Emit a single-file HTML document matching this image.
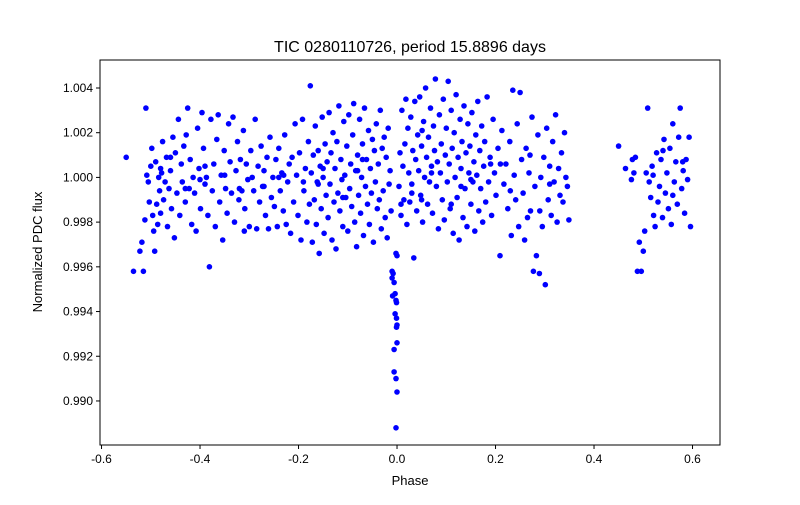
<!DOCTYPE html>
<html><head><meta charset="utf-8"><style>
body{margin:0;background:#fff;font-family:"Liberation Sans",sans-serif;}
svg text{font-family:"Liberation Sans",sans-serif;}
</style></head><body>
<svg id="chart" width="800" height="500">
<rect width="800" height="500" fill="#fff"/>
<text x="410" y="52" font-size="16" text-anchor="middle">TIC 0280110726, period 15.8896 days</text>
<g id="points"></g>
<rect x="100" y="60" width="620" height="385" fill="none" stroke="#000" stroke-width="1"/>
<g id="xaxis"></g>
<g id="yaxis"></g>
<text x="410" y="485" font-size="13" text-anchor="middle">Phase</text>
<text x="42" y="252" font-size="13" text-anchor="middle" transform="rotate(-90 42 252)">Normalized PDC flux</text>
</svg>
<script>
const xTicks=[-0.6,-0.4,-0.2,0.0,0.2,0.4,0.6];
const yTicks=[0.990,0.992,0.994,0.996,0.998,1.000,1.002,1.004];
const phase=[
-0.550,-0.535,-0.522,-0.518,-0.515,-0.512,-0.510,-0.508,-0.505,-0.503,-0.500,-0.498,-0.496,-0.494,-0.492,-0.490,-0.488,-0.486,-0.484,-0.482,-0.480,-0.478,-0.476,-0.474,-0.471,-0.468,-0.466,-0.463,-0.460,-0.458,-0.455,-0.452,-0.450,-0.447,-0.444,-0.441,-0.438,-0.436,-0.433,-0.430,-0.428,-0.425,-0.422,-0.420,-0.417,-0.414,-0.411,-0.408,-0.405,-0.402,-0.399,-0.396,-0.393,-0.390,-0.387,-0.384,-0.381,-0.378,-0.375,-0.372,-0.369,-0.366,-0.363,-0.360,-0.357,-0.354,-0.351,-0.348,-0.345,-0.342,-0.339,-0.336,-0.333,-0.330,-0.327,-0.324,-0.321,-0.318,-0.315,-0.312,-0.309,-0.306,-0.303,-0.300,-0.297,-0.294,-0.291,-0.288,-0.285,-0.282,-0.279,-0.276,-0.273,-0.270,-0.267,-0.264,-0.261,-0.258,-0.255,-0.252,-0.249,-0.246,-0.243,-0.240,-0.237,-0.234,-0.231,-0.228,-0.225,-0.222,-0.219,-0.216,-0.213,-0.210,-0.207,-0.204,-0.201,-0.198,-0.195,-0.192,-0.189,-0.186,-0.183,-0.180,-0.178,-0.176,-0.174,-0.172,-0.170,-0.168,-0.166,-0.164,-0.162,-0.160,-0.158,-0.156,-0.154,-0.152,-0.150,-0.148,-0.146,-0.144,-0.142,-0.140,-0.138,-0.136,-0.134,-0.132,-0.130,-0.128,-0.126,-0.124,-0.122,-0.120,-0.118,-0.116,-0.114,-0.112,-0.110,-0.108,-0.106,-0.104,-0.102,-0.100,-0.098,-0.096,-0.094,-0.092,-0.090,-0.088,-0.086,-0.084,-0.082,-0.080,-0.078,-0.076,-0.074,-0.072,-0.070,-0.068,-0.066,-0.064,-0.062,-0.060,-0.058,-0.056,-0.054,-0.052,-0.050,-0.048,-0.046,-0.044,-0.042,-0.040,-0.038,-0.036,-0.034,-0.032,-0.030,-0.028,-0.026,-0.024,-0.022,-0.020,-0.018,-0.016,-0.014,-0.012,-0.010,-0.008,
-0.010,-0.006,-0.004,-0.009,-0.002,-0.001,-0.004,-0.001,0.000,-0.001,0.000,-0.006,-0.006,-0.002,0.000,-0.002,-0.002,0.000,0.008,0.051,
0.004,0.006,0.008,0.010,0.012,0.014,0.016,0.018,0.020,0.022,0.024,0.026,0.028,0.030,0.032,0.034,0.036,0.038,0.040,0.042,0.044,0.046,0.048,0.050,0.052,0.054,0.056,0.058,0.060,0.062,0.064,0.066,0.068,0.070,0.072,0.074,0.076,0.078,0.080,0.082,0.084,0.086,0.088,0.090,0.092,0.094,0.096,0.098,0.100,0.102,0.104,0.106,0.108,0.110,0.112,0.114,0.116,0.118,0.120,0.122,0.124,0.126,0.128,0.130,0.132,0.134,0.136,0.138,0.140,0.142,0.144,0.146,0.148,0.150,0.152,0.154,0.156,0.158,0.160,0.162,0.164,0.166,0.168,0.170,0.172,0.174,0.176,0.178,0.180,0.183,0.186,0.189,0.192,0.195,0.198,0.201,0.205,0.209,0.213,0.217,0.221,0.225,0.229,0.232,0.235,0.238,0.241,0.244,0.247,0.250,0.253,0.256,0.259,0.262,0.265,0.268,0.271,0.274,0.277,0.280,0.283,0.286,0.289,0.292,0.295,0.298,0.301,0.304,0.307,0.310,0.313,0.316,0.319,0.322,0.325,0.328,0.331,0.334,0.337,0.340,0.343,0.346,0.349,
0.450,0.464,0.476,0.478,0.481,0.484,0.488,0.492,0.496,0.500,0.503,0.506,0.509,0.512,0.515,0.518,0.521,0.524,0.527,0.530,0.533,0.536,0.539,0.542,0.545,0.548,0.551,0.554,0.557,0.560,0.563,0.566,0.569,0.572,0.575,0.578,0.581,0.584,0.587,0.590,0.593,0.596,
-0.46,-0.43,-0.39,-0.35,-0.31,-0.27,-0.23,-0.19,-0.15,-0.11,-0.07,0.03,0.07,0.11,0.15,0.19,0.23,0.27,0.31,0.52,0.56,-0.48,-0.40,-0.32,-0.24,-0.16,-0.08,0.05,0.13,0.21,0.29,0.54,0.58
];
const flux=[
1.0009,0.9958,0.9967,0.9971,0.9958,0.9981,1.0031,1.0001,0.9998,0.9989,1.0005,1.0013,0.9983,0.9976,0.9967,1.0007,0.9988,0.9979,1.0000,0.9994,0.9984,1.0002,1.0016,0.9990,0.9998,1.0009,0.9978,0.9995,1.0003,0.9986,1.0018,0.9973,1.0011,0.9993,1.0026,0.9983,1.0006,0.9998,1.0014,0.9989,1.0019,1.0031,0.9995,1.0008,0.9979,1.0000,0.9993,0.9976,1.0022,1.0004,0.9986,1.0029,1.0013,0.9997,1.0000,0.9983,0.9960,1.0026,0.9994,1.0006,0.9978,1.0017,1.0028,0.9989,1.0001,0.9972,1.0012,0.9995,0.9984,1.0024,1.0007,0.9993,1.0027,0.9980,1.0003,1.0016,0.9990,1.0008,0.9994,1.0021,0.9986,1.0006,0.9999,0.9978,1.0012,1.0000,0.9994,1.0026,0.9977,1.0005,0.9989,1.0014,0.9996,1.0003,0.9983,1.0009,0.9977,1.0018,0.9991,1.0000,0.9987,1.0008,0.9978,1.0013,0.9994,1.0002,0.9985,1.0019,0.9979,0.9998,1.0006,0.9975,1.0009,0.9989,1.0024,1.0001,0.9983,1.0011,0.9972,1.0026,0.9994,1.0004,0.9980,1.0016,0.9988,1.0041,1.0002,0.9971,1.0010,0.9990,1.0023,0.9979,0.9998,1.0012,0.9966,1.0005,0.9986,1.0027,1.0000,0.9975,1.0015,0.9992,1.0007,0.9982,1.0029,0.9997,1.0011,0.9972,1.0020,0.9989,1.0004,0.9968,1.0016,0.9993,1.0032,0.9985,1.0008,0.9999,0.9978,1.0025,1.0001,0.9991,1.0014,0.9976,1.0028,0.9995,1.0006,0.9987,1.0019,1.0033,0.9980,1.0003,0.9969,1.0010,0.9992,1.0026,0.9984,1.0000,1.0015,0.9974,1.0031,0.9996,1.0008,0.9988,1.0021,0.9979,1.0004,0.9993,1.0017,0.9971,1.0012,0.9998,1.0024,0.9986,1.0006,0.9990,1.0030,0.9977,1.0013,0.9994,1.0018,0.9982,1.0009,0.9973,1.0022,0.9997,1.0003,0.9985,
0.9958,0.9957,0.9955,0.9953,0.9948,0.9947,0.9945,0.9944,0.9939,0.9937,0.9934,0.9933,0.9926,0.9923,0.9913,0.9910,0.9904,0.9888,0.9966,0.9965,
0.9988,1.0021,0.9996,1.0011,0.9983,1.0030,1.0005,0.9990,1.0015,1.0035,0.9979,1.0022,1.0002,0.9989,1.0027,0.9997,1.0012,0.9964,1.0034,1.0008,0.9985,1.0019,1.0003,1.0036,0.9992,1.0014,0.9980,1.0025,1.0000,1.0040,1.0009,0.9988,1.0018,0.9998,1.0031,1.0005,0.9984,1.0023,1.0012,1.0044,0.9996,1.0007,0.9977,1.0028,1.0002,1.0015,0.9990,1.0035,0.9981,1.0010,1.0022,0.9998,1.0043,1.0006,0.9986,1.0030,1.0013,0.9975,1.0020,1.0000,1.0037,0.9991,1.0009,0.9972,1.0026,1.0004,1.0016,0.9982,1.0032,0.9995,1.0011,0.9978,1.0024,1.0002,1.0014,0.9988,1.0029,0.9998,1.0007,0.9976,1.0019,1.0001,1.0034,0.9985,1.0012,0.9995,1.0023,0.9980,1.0005,1.0016,0.9989,1.0036,0.9998,1.0009,0.9983,1.0026,1.0002,0.9992,1.0013,0.9965,1.0021,0.9997,1.0006,0.9986,1.0016,0.9974,1.0039,1.0001,0.9990,1.0024,0.9978,1.0038,1.0008,0.9993,0.9972,1.0013,0.9982,1.0002,0.9985,1.0027,0.9958,0.9996,0.9965,1.0019,0.9957,1.0000,0.9978,1.0009,0.9952,1.0022,0.9990,1.0005,0.9983,1.0016,0.9998,1.0028,0.9980,1.0004,0.9992,1.0011,0.9989,1.0020,1.0000,0.9996,0.9981,1.0014,1.0004,0.9999,1.0008,1.0002,
1.0009,0.9958,0.9971,0.9958,0.9967,0.9976,1.0002,1.0031,0.9998,0.9991,1.0005,0.9983,0.9978,1.0011,0.9989,0.9996,1.0008,0.9982,1.0017,0.9993,1.0002,0.9986,1.0013,0.9979,1.0024,0.9998,1.0007,0.9988,1.0018,1.0031,0.9995,1.0003,0.9984,1.0008,0.9999,1.0018,0.9978,1.0009,0.9995,1.0005,1.0001,0.9976,
0.9996,1.0001,0.9998,1.0004,0.9991,1.0008,0.9993,1.0002,0.9988,0.9999,1.0006,0.9994,1.0010,0.9997,1.0001,0.9992,1.0004,0.9999,0.9995,1.0000,0.9997,1.0003,0.9990,0.9996,1.0006,0.9985,1.0012,1.0007,0.9989,1.0011,0.9994,0.9992,1.0004
];
const NS='http://www.w3.org/2000/svg';
const L=100,R=720,T=60,B=445;
const x0=-0.6031,x1=0.6558,y0=0.98803,y1=1.005252;
function sx(v){return L+(v-x0)/(x1-x0)*(R-L);}
function sy(v){return B-(v-y0)/(y1-y0)*(B-T);}
const svg=document.getElementById('chart');
const pg=document.getElementById('points');
for(let i=0;i<phase.length&&i<flux.length;i++){
 const c=document.createElementNS(NS,'circle');
 c.setAttribute('cx',sx(phase[i]).toFixed(1));
 c.setAttribute('cy',sy(flux[i]).toFixed(1));
 c.setAttribute('r','2.8');
 c.setAttribute('fill','#0000ff');
 
 
 pg.appendChild(c);
}
const xg=document.getElementById('xaxis');
xTicks.forEach(t=>{
 const x=sx(t);
 const l=document.createElementNS(NS,'line');
 l.setAttribute('x1',x);l.setAttribute('x2',x);l.setAttribute('y1',B);l.setAttribute('y2',B+4);l.setAttribute('stroke','#000');
 
 
 xg.appendChild(l);
 const s=document.createElementNS(NS,'text');
 s.setAttribute('x',x);s.setAttribute('y',B+18);s.setAttribute('font-size','12');s.setAttribute('text-anchor','middle');
 s.textContent=t.toFixed(1);
 
 
 xg.appendChild(s);
});
const yg=document.getElementById('yaxis');
yTicks.forEach(t=>{
 const y=sy(t);
 const l=document.createElementNS(NS,'line');
 l.setAttribute('x1',L-4);l.setAttribute('x2',L);l.setAttribute('y1',y);l.setAttribute('y2',y);l.setAttribute('stroke','#000');
 
 
 yg.appendChild(l);
 const s=document.createElementNS(NS,'text');
 s.setAttribute('x',L-7);s.setAttribute('y',y+4);s.setAttribute('font-size','12');s.setAttribute('text-anchor','end');
 s.textContent=t.toFixed(3);
 
 
 yg.appendChild(s);
});
</script>
</body></html>
